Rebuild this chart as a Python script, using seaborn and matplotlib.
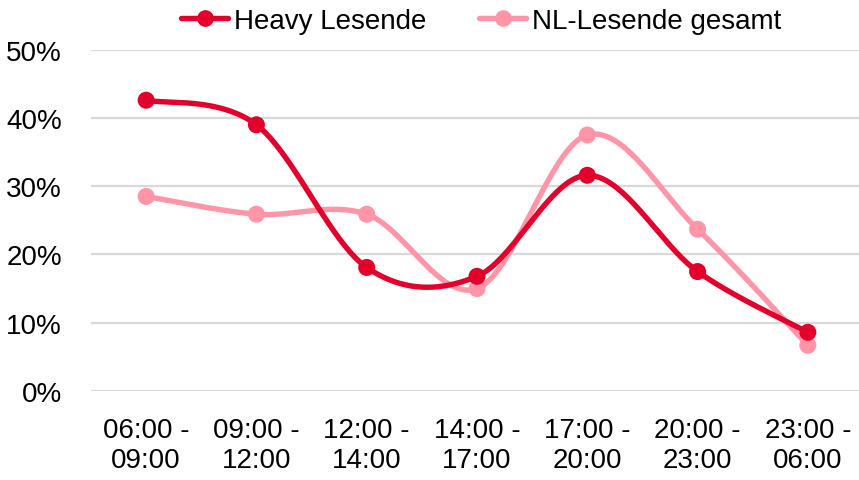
import numpy as np
import pandas as pd
import matplotlib
matplotlib.use("Agg")
import matplotlib.pyplot as plt
from matplotlib.lines import Line2D
from matplotlib.ticker import PercentFormatter
import seaborn as sns

# Time slots and share of readers per slot
slots = ["06:00 -\n09:00", "09:00 -\n12:00", "12:00 -\n14:00", "14:00 -\n17:00",
         "17:00 -\n20:00", "20:00 -\n23:00", "23:00 -\n06:00"]
heavy = [0.426, 0.390, 0.181, 0.168, 0.316, 0.175, 0.086]
nl_total = [0.285, 0.259, 0.259, 0.150, 0.375, 0.237, 0.067]

series_names = ["Heavy Lesende", "NL-Lesende gesamt"]
colors = {"Heavy Lesende": "#E4002B", "NL-Lesende gesamt": "#FF95A6"}

sns.set_theme(style="white")
plt.rcParams["font.family"] = ["Liberation Sans", "DejaVu Sans"]
FS = 20


def smooth(y, n=40):
    """Bezier smoothing through every point (tension 1/6, Catmull-Rom style)."""
    x = np.arange(len(y), dtype=float)
    y = np.asarray(y, dtype=float)
    pts = np.column_stack([x, y])
    ext = np.vstack([pts[0], pts, pts[-1]])
    out = []
    for i in range(len(pts) - 1):
        p0, p1, p2, p3 = ext[i], ext[i + 1], ext[i + 2], ext[i + 3]
        c1 = p1 + (p2 - p0) / 6.0
        c2 = p2 - (p3 - p1) / 6.0
        t = np.linspace(0, 1, n, endpoint=(i == len(pts) - 2))[:, None]
        seg = ((1 - t) ** 3) * p1 + 3 * ((1 - t) ** 2) * t * c1 + 3 * (1 - t) * t ** 2 * c2 + t ** 3 * p2
        out.append(seg)
    return np.vstack(out)


points = pd.DataFrame({
    "slot": list(range(len(slots))) * 2,
    "share": heavy + nl_total,
    "series": [series_names[0]] * len(slots) + [series_names[1]] * len(slots),
})

curves = []
for name, vals in zip(series_names, [heavy, nl_total]):
    c = smooth(vals)
    curves.append(pd.DataFrame({"slot": c[:, 0], "share": c[:, 1], "series": name}))
curves = pd.concat(curves, ignore_index=True)

fig = plt.figure(figsize=(8.59, 4.81), dpi=100)
W, H = 859, 481
ax = fig.add_axes([91 / W, 89 / H, (863 - 91) / W, (392 - 50.7) / H])

# Light series under the dark one
for name in reversed(series_names):
    sub_c = curves[curves.series == name]
    sub_p = points[points.series == name]
    sns.lineplot(data=sub_c, x="slot", y="share", color=colors[name], linewidth=3.9,
                 ax=ax, sort=False, estimator=None, legend=False, solid_capstyle="round")
    sns.scatterplot(data=sub_p, x="slot", y="share", color=colors[name], s=150,
                    edgecolor="none", ax=ax, legend=False, zorder=5, clip_on=False)

ax.set_xlim(-0.5, 6.5)
ax.set_ylim(0, 0.5)
ax.set_yticks(np.arange(0, 0.51, 0.1))
ax.yaxis.set_major_formatter(PercentFormatter(1.0, decimals=0))
ax.set_xticks(range(len(slots)))
ax.set_xticklabels(slots)
ax.set_xlabel("")
ax.set_ylabel("")
ax.grid(axis="y", color="#D9D9D9", linewidth=1.6)
ax.set_axisbelow(True)
for s in ax.spines.values():
    s.set_visible(False)
ax.tick_params(axis="both", length=0, labelsize=FS, colors="black")
ax.tick_params(axis="y", pad=21)
ax.tick_params(axis="x", pad=19)

handles = [Line2D([0], [0], color=colors[n], linewidth=3.9, marker="o", markersize=11)
           for n in series_names]
fig.legend(handles, series_names, loc="center", bbox_to_anchor=(0.56, 0.955), ncol=2,
           frameon=False, fontsize=FS, handlelength=1.7, handletextpad=0.2,
           columnspacing=1.9, borderaxespad=0, labelcolor="black")

fig.savefig("out.png", dpi=100)
